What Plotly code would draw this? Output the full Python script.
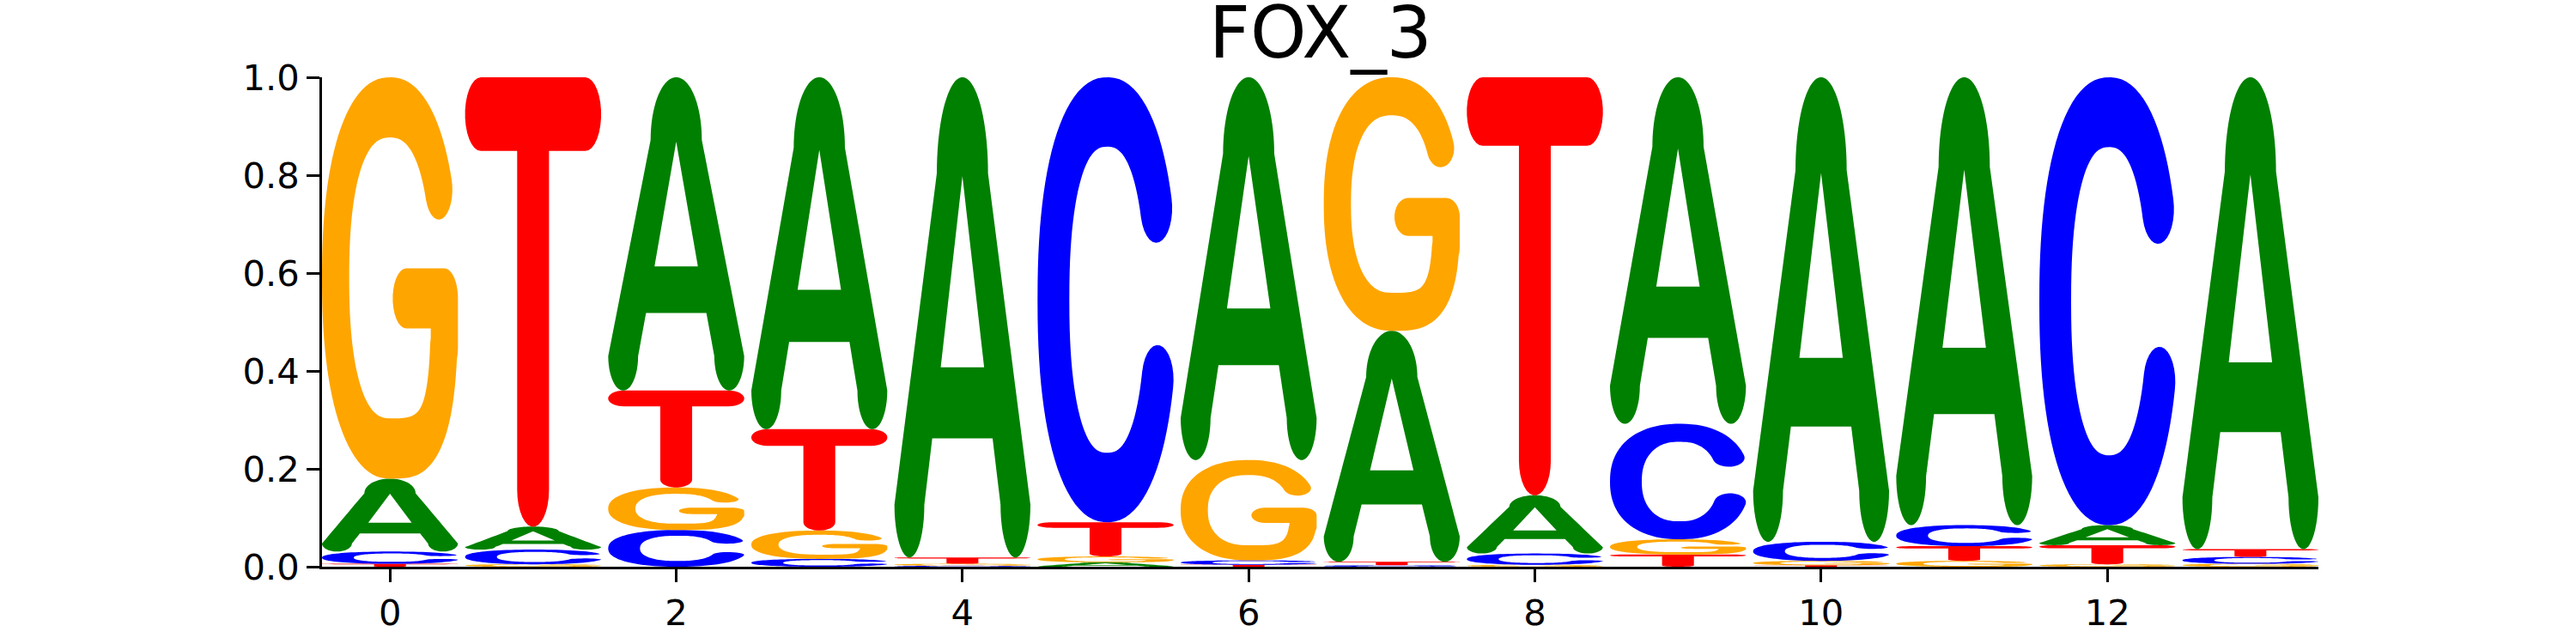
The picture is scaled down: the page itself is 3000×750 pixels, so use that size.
import numpy as np
import plotly.graph_objects as go

# position-wise letter probabilities
positions = list(range(14))
prob_A = [0.149, 0.047, 0.640, 0.719, 0.981, 0.009, 0.782, 0.472, 0.119, 0.708, 0.949, 0.915, 0.041, 0.964]
prob_C = [0.025, 0.030, 0.075, 0.016, 0.002, 0.909, 0.009, 0.003, 0.023, 0.236, 0.039, 0.043, 0.915, 0.014]
prob_G = [0.820, 0.005, 0.087, 0.058, 0.004, 0.012, 0.205, 0.518, 0.004, 0.031, 0.009, 0.012, 0.005, 0.006]
prob_T = [0.006, 0.918, 0.198, 0.207, 0.013, 0.070, 0.004, 0.007, 0.854, 0.025, 0.003, 0.030, 0.039, 0.016]
x_ticks = [0, 2, 4, 6, 8, 10, 12]
y_ticks = [0.0, 0.2, 0.4, 0.6, 0.8, 1.0]
title = "FOX_3"

colors = {"A": "#008000", "C": "#0000ff", "G": "#ffa500", "T": "#ff0000"}
glyph_width = 0.95


# --- rounded glyph outlines (unit box, stretched later like logomaker does) ---
def stroke(pts, rx, ry, ncap=16):
    # thick polyline with round caps, pen is an ellipse rx x ry
    P = np.column_stack([pts[:, 0] / rx, pts[:, 1] / ry])
    d = np.gradient(P, axis=0)
    d = d / np.linalg.norm(d, axis=1)[:, None]
    nrm = np.column_stack([-d[:, 1], d[:, 0]])
    left = P + nrm
    right = P - nrm
    a1 = np.arctan2(d[-1, 1], d[-1, 0])
    a0 = np.arctan2(d[0, 1], d[0, 0])
    t = np.linspace(np.pi / 2, -np.pi / 2, ncap)
    cap1 = P[-1] + np.column_stack([np.cos(a1 + t), np.sin(a1 + t)])
    cap0 = P[0] + np.column_stack([np.cos(a0 - np.pi + t), np.sin(a0 - np.pi + t)])
    poly = np.vstack([left, cap1, right[::-1], cap0])
    poly = np.column_stack([poly[:, 0] * rx, poly[:, 1] * ry])
    return poly[::-1]  # counter-clockwise


def arc(t0, t1, n, rx, ry, num=90):
    th = np.radians(np.linspace(t0, t1, num))
    c, s = np.cos(th), np.sin(th)
    u = 0.5 + (0.5 - rx) * np.sign(c) * np.abs(c) ** (2 / n)
    v = 0.5 + (0.5 - ry) * np.sign(s) * np.abs(s) ** (2 / n)
    return np.column_stack([u, v])


def seg(p, q):
    return np.array([p, q], dtype=float)


def ell(cx, cy, ax, ay, t0, t1, num=24):
    th = np.radians(np.linspace(t0, t1, num))
    return np.column_stack([cx + ax * np.cos(th), cy + ay * np.sin(th)])


def glyph_T():
    rx, ry = 0.117, 0.082
    return [stroke(seg((rx, 1 - ry), (1 - rx, 1 - ry)), rx, ry),
            stroke(seg((0.5, ry), (0.5, 1 - ry)), rx, ry)]


def glyph_C():
    rx, ry = 0.114, 0.078
    return [stroke(arc(26, 338, 2.3, rx, ry), rx, ry)]


def glyph_G():
    rx, ry = 0.10, 0.075
    bar = 0.449
    # rounder upper bowl, squarer lower-right corner
    bowl = np.vstack([arc(28, 270, 2.3, rx, ry, 80), arc(270, 348, 3.5, rx, ry, 30)[1:]])
    knee = bowl[-1, 1]
    return [stroke(bowl, rx, ry),
            stroke(seg((1 - rx, knee), (1 - rx, bar)), rx, ry),
            stroke(seg((0.52 + rx, bar), (1 - rx, bar)), rx, ry)]


def glyph_A():
    def uo(v):
        return 0.122 + 0.46 * (v - 0.395)

    def ui_low(v):
        return 0.274 + 0.43 * (v - 0.248)

    def ui_up(v):
        return 0.337 + 0.408 * (v - 0.395)

    hf, vd, b0, b1 = 0.11, 0.80, 0.248, 0.396
    fl = (uo(hf) + ui_low(hf)) / 2
    fr = (ui_low(hf) - uo(hf)) / 2
    dome = ell(0.5, vd, 0.5 - uo(vd), 1 - vd, 0, 180, 40)
    vv = np.linspace(vd, hf, 12)
    left_out = np.column_stack([uo(vv), vv])
    foot_l = ell(fl, hf, fr, hf, 180, 360)
    vv2 = np.linspace(hf, b0, 6)
    left_in = np.column_stack([ui_low(vv2), vv2])
    right_in = np.column_stack([1 - ui_low(vv2[::-1]), vv2[::-1]])
    foot_r = ell(1 - fl, hf, fr, hf, 180, 360)
    right_out = np.column_stack([1 - uo(vv[::-1]), vv[::-1]])
    outer = np.vstack([dome, left_out, foot_l, left_in, right_in, foot_r, right_out])
    hole = np.array([[ui_up(b1), b1], [0.5, 0.794], [1 - ui_up(b1), b1]])
    return [outer, hole]


def normalized(polys):
    allp = np.vstack(polys)
    lo, hi = allp.min(axis=0), allp.max(axis=0)
    return [(p - lo) / (hi - lo) for p in polys]


glyphs = {"A": normalized(glyph_A()), "C": normalized(glyph_C()),
          "G": normalized(glyph_G()), "T": normalized(glyph_T())}


def glyph_path(letter, x, bottom, top):
    parts = []
    for poly in glyphs[letter]:
        xs = x - glyph_width / 2 + glyph_width * poly[:, 0]
        ys = bottom + (top - bottom) * poly[:, 1]
        pts = " L ".join(f"{a:.5f},{b:.6f}" for a, b in zip(xs, ys))
        parts.append("M " + pts + " Z")
    return " ".join(parts)


probs = {"A": prob_A, "C": prob_C, "G": prob_G, "T": prob_T}

fig = go.Figure()
# invisible trace so both axes are laid out
fig.add_trace(go.Scatter(x=positions, y=[0] * len(positions), mode="markers",
                         marker=dict(opacity=0), hoverinfo="skip", showlegend=False))

shapes = []
for i, pos in enumerate(positions):
    vals = sorted(((probs[l][i], l) for l in "ACGT"), key=lambda t: t[0])
    floor = 0.0
    for val, letter in vals:
        shapes.append(dict(type="path", xref="x", yref="y",
                           path=glyph_path(letter, pos, floor, floor + val),
                           fillcolor=colors[letter], fillrule="nonzero",
                           line=dict(width=0), layer="above"))
        floor += val

font_px = 41.7
fig.update_layout(
    width=3000, height=750,
    margin=dict(l=375, r=300, t=90, b=82.5, pad=0),
    paper_bgcolor="white", plot_bgcolor="white",
    shapes=shapes,
    showlegend=False,
    font=dict(family="DejaVu Sans", size=font_px, color="black"),
    annotations=[dict(text=title, x=0.5, y=1, xref="paper", yref="paper",
                      xanchor="center", yanchor="bottom", yshift=1, showarrow=False,
                      font=dict(family="DejaVu Sans", size=83.3, color="black"))],
)
fig.update_xaxes(range=[positions[0] - glyph_width / 2, positions[-1] + glyph_width / 2],
                 tickvals=x_ticks, ticks="outside", ticklen=14.6,
                 tickwidth=3.33, tickcolor="black", showline=True, linewidth=3.33,
                 linecolor="black", showgrid=False, zeroline=False,
                 tickfont=dict(family="DejaVu Sans", size=font_px))
fig.update_yaxes(range=[0, 1], tickvals=y_ticks, tickformat=".1f", ticks="outside",
                 ticklen=14.6, tickwidth=3.33, tickcolor="black", showline=True,
                 linewidth=3.33, linecolor="black", showgrid=False, zeroline=False,
                 tickfont=dict(family="DejaVu Sans", size=font_px))

# drop the default 8px page margin so the figure sits flush with the window
fig.write_html("out.html", config={"displayModeBar": False},
               post_script="document.body.style.margin='0px';")
